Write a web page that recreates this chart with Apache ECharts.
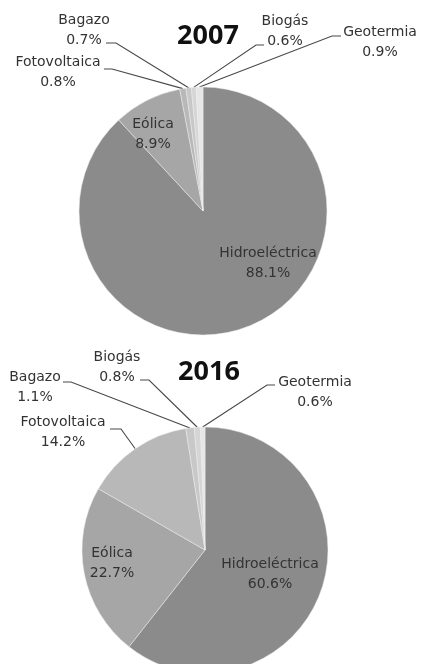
<!DOCTYPE html>
<html>
<head>
<meta charset="utf-8">
<script src="https://cdn.jsdelivr.net/npm/echarts@6/dist/echarts.min.js"></script>
<style>
  html, body { margin: 0; padding: 0; background: #fff; }
  #chart { width: 421px; height: 664px; }
</style>
</head>
<body>
<div id="chart"></div>
<script>
// datos (%)
const fuentes = ['Hidroeléctrica', 'Eólica', 'Fotovoltaica', 'Bagazo', 'Biogás', 'Geotermia'];
const valores2007 = [88.1, 8.9, 0.8, 0.7, 0.6, 0.9];
const valores2016 = [60.6, 22.7, 14.2, 1.1, 0.8, 0.6];
const anios = ['2007', '2016'];
const colores = ['#8b8b8b', '#a6a6a6', '#b8b8b8', '#c8c8c8', '#d5d5d5', '#e6e6e6'];

// posicion de etiquetas [x, y] y linea guia [codo, fin] por serie
const etiquetas = [
  [
    { pos: [268, 263] },
    { pos: [153, 134] },
    { pos: [58, 72], line: [[112, 69], [104, 69]] },
    { pos: [84, 30], line: [[116, 43], [106, 43]] },
    { pos: [285, 31], line: [[256, 45], [264, 45]] },
    { pos: [380, 42], line: [[332, 36], [341, 36]] }
  ],
  [
    { pos: [270, 574] },
    { pos: [112, 563] },
    { pos: [63, 432], line: [[121, 429], [110, 429]] },
    { pos: [35, 387], line: [[71, 382], [63, 382]] },
    { pos: [117, 367], line: [[149, 380], [140, 380]] },
    { pos: [315, 392], line: [[267, 385], [275, 385]] }
  ]
];

function buildData(valores) {
  return fuentes.map(function (name, i) {
    const inside = i < 2;
    return {
      name: name,
      value: valores[i],
      itemStyle: { color: colores[i] },
      label: { position: inside ? 'inside' : 'outside' },
      labelLine: { show: !inside }
    };
  });
}

function makeSeries(idx, valores, center, radius) {
  return {
    type: 'pie',
    center: center,
    radius: radius,
    startAngle: 90,
    clockwise: true,
    avoidLabelOverlap: false,
    animation: false,
    silent: true,
    itemStyle: { borderColor: '#ececec', borderWidth: 0.5 },
    label: {
      show: true,
      formatter: function (p) { return p.name + '\n' + p.value.toFixed(1) + '%'; },
      fontFamily: 'DejaVu Sans',
      fontSize: 14,
      lineHeight: 20,
      color: '#333'
    },
    labelLine: {
      show: true,
      length: 10,
      length2: 10,
      lineStyle: { color: '#484848', width: 1.1 }
    },
    labelLayout: function (params) {
      const e = etiquetas[idx][params.dataIndex];
      const out = { x: e.pos[0], y: e.pos[1], align: 'center', verticalAlign: 'middle' };
      if (e.line && params.labelLinePoints) {
        out.labelLinePoints = [params.labelLinePoints[0], e.line[0], e.line[1]];
      }
      return out;
    },
    data: buildData(valores)
  };
}

const chart = echarts.init(document.getElementById('chart'), null, { renderer: 'canvas' });
chart.setOption({
  backgroundColor: '#fff',
  animation: false,
  title: [
    {
      text: anios[0], left: 203, top: 18, textAlign: 'center',
      textStyle: { fontFamily: 'Noto Sans', fontWeight: 'bold', fontSize: 27, color: '#111' }
    },
    {
      text: anios[1], left: 204, top: 354, textAlign: 'center',
      textStyle: { fontFamily: 'Noto Sans', fontWeight: 'bold', fontSize: 27, color: '#111' }
    }
  ],
  series: [
    makeSeries(0, valores2007, [203, 211], 124),
    makeSeries(1, valores2016, [205, 550], 123)
  ]
});
</script>
</body>
</html>
